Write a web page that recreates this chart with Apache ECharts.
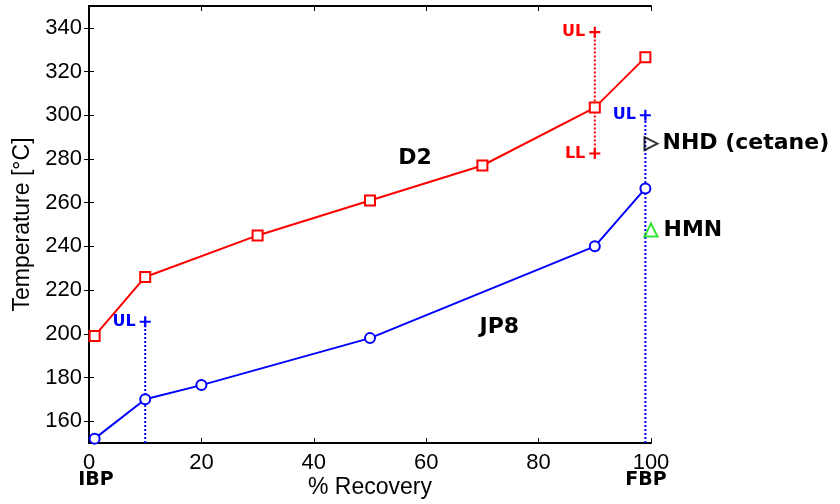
<!DOCTYPE html>
<html>
<head>
<meta charset="utf-8">
<script src="https://cdn.jsdelivr.net/npm/echarts@6/dist/echarts.min.js"></script>
<style>
  html, body { margin: 0; padding: 0; background: #fff; }
  #chart { width: 840px; height: 504px; }
</style>
</head>
<body>
<div id="chart"></div>
<script>
// distillation curves
const recovD2 = [1, 10, 30, 50, 70, 90, 99];
const tempD2 = [199, 226, 245, 261, 277, 303.5, 326.5];
const recovJP8 = [1, 10, 20, 50, 90, 99];
const tempJP8 = [152, 170, 176.5, 198, 240, 266.5];

// spec limits: [x, low, high]
const d2Limit90 = [90, 282.5, 338];
const jp8Limit10 = [10, 150, 205.5];
const jp8LimitFbp = [99, 150, 300];

// reference fuels
const nhd = [100, 287];
const hmn = [100, 247.5];

// axis ticks
const yTicks = [160, 180, 200, 220, 240, 260, 280, 300, 320, 340];

const SANS = 'Liberation Sans';
const BOLD = 'DejaVu Sans';
const plus = 'path://M4,0 H6 V4 H10 V6 H6 V10 H4 V6 H0 V4 H4 Z';

function pairs(xs, ys) { return xs.map((x, i) => [x, ys[i]]); }

function boldText(txt, color, size) {
  return {formatter: txt, color: color, fontFamily: BOLD, fontWeight: 'bold', fontSize: size,
    textBorderWidth: 0, opacity: 1};
}

function limitSeries(lim, color, lowLabel, highLabel) {
  const lab = (txt) => txt ? Object.assign({show: true, position: 'left', distance: 4},
    boldText(txt, color, 16)) : {show: false};
  return {
    type: 'line', clip: false, silent: true,
    lineStyle: {color: color, width: 2, type: [2, 2]},
    itemStyle: {color: color},
    symbolSize: 11,
    data: [
      {value: [lim[0], lim[1]], symbol: lowLabel ? plus : 'none', label: lab(lowLabel)},
      {value: [lim[0], lim[2]], symbol: plus, label: lab(highLabel)}
    ],
    z: 1
  };
}

function textMark(x, y, txt) {
  return {
    type: 'scatter', silent: true, symbolSize: 1,
    itemStyle: {color: 'rgba(0,0,0,0)'},
    data: [[x, y]],
    label: Object.assign({show: true, position: 'inside'}, boldText(txt, '#000', 22))
  };
}

const chart = echarts.init(document.getElementById('chart'));
chart.setOption({
  animation: false,
  backgroundColor: '#fff',
  grid: {left: 89, right: 189, top: 6, bottom: 61, outerBoundsMode: 'none', containLabel: false},
  xAxis: [{
    type: 'value', min: 0, max: 100, interval: 20,
    name: '% Recovery', nameLocation: 'middle', nameGap: 33, nameMoveOverlap: false,
    nameTextStyle: {fontFamily: SANS, fontSize: 23, color: '#000'},
    axisLine: {lineStyle: {color: '#000', width: 2}},
    axisTick: {inside: true, length: 5, lineStyle: {color: '#000', width: 1}},
    splitLine: {show: false},
    axisLabel: {
      fontFamily: SANS, fontSize: 22, color: '#000', margin: 10, lineHeight: 20,
      formatter: function (v) {
        if (v === 0) return '0\n{b|IBP}';
        if (v === 100) return '100\n{c|FBP}';
        return String(v);
      },
      rich: {
        b: {fontFamily: BOLD, fontWeight: 'bold', fontSize: 19, lineHeight: 15, color: '#000', padding: [0, 0, 0, 14]},
        c: {fontFamily: BOLD, fontWeight: 'bold', fontSize: 19, lineHeight: 15, color: '#000', padding: [0, 10, 0, 0]}
      }
    }
  }, {
    type: 'value', min: 0, max: 100, interval: 20, position: 'top',
    axisLine: {lineStyle: {color: '#000', width: 2}},
    axisTick: {inside: true, length: 5, lineStyle: {color: '#000', width: 1}},
    axisLabel: {show: false}, splitLine: {show: false}
  }],
  yAxis: [{
    type: 'value', min: 150, max: 350,
    name: 'Temperature [°C]', nameLocation: 'middle', nameGap: 55, nameMoveOverlap: false,
    nameTextStyle: {fontFamily: SANS, fontSize: 23, color: '#000'},
    axisLine: {lineStyle: {color: '#000', width: 2}},
    axisTick: {inside: true, length: 5, customValues: yTicks, lineStyle: {color: '#000', width: 1}},
    splitLine: {show: false},
    axisLabel: {fontFamily: SANS, fontSize: 22, color: '#000', margin: 7, customValues: yTicks}
  }, {
    type: 'value', min: 150, max: 350, position: 'right',
    axisLine: {lineStyle: {color: '#000', width: 2}},
    axisTick: {inside: true, length: 5, customValues: yTicks, lineStyle: {color: '#000', width: 1}},
    axisLabel: {show: false}, splitLine: {show: false}
  }],
  series: [
    limitSeries(d2Limit90, '#ff0000', 'LL', 'UL'),
    limitSeries(jp8Limit10, '#0000ff', null, 'UL'),
    limitSeries(jp8LimitFbp, '#0000ff', null, 'UL'),
    {
      name: 'D2', type: 'line', clip: false,
      data: pairs(recovD2, tempD2),
      lineStyle: {color: '#ff0000', width: 2},
      symbol: 'rect', symbolSize: 10, showAllSymbol: true,
      itemStyle: {color: '#fff', borderColor: '#ff0000', borderWidth: 2},
      z: 3
    },
    {
      name: 'JP8', type: 'line', clip: false,
      data: pairs(recovJP8, tempJP8),
      lineStyle: {color: '#0000ff', width: 2},
      symbol: 'circle', symbolSize: 10, showAllSymbol: true,
      itemStyle: {color: '#fff', borderColor: '#0000ff', borderWidth: 2},
      z: 3
    },
    {
      name: 'NHD', type: 'scatter', clip: false,
      data: [nhd], symbol: 'triangle', symbolRotate: -90, symbolSize: 13,
      itemStyle: {color: 'rgba(255,255,255,0)', borderColor: '#000', borderWidth: 2},
      label: Object.assign({show: true, position: 'right', distance: 4}, boldText('NHD (cetane)', '#000', 22)),
      z: 4
    },
    {
      name: 'HMN', type: 'scatter', clip: false,
      data: [hmn], symbol: 'triangle', symbolSize: 13,
      itemStyle: {color: 'rgba(255,255,255,0)', borderColor: '#00e000', borderWidth: 2},
      label: Object.assign({show: true, position: 'right', distance: 5}, boldText('HMN', '#000', 22)),
      z: 4
    },
    textMark(58, 280.5, 'D2'),
    textMark(73, 203, 'JP8')
  ]
});
</script>
</body>
</html>
